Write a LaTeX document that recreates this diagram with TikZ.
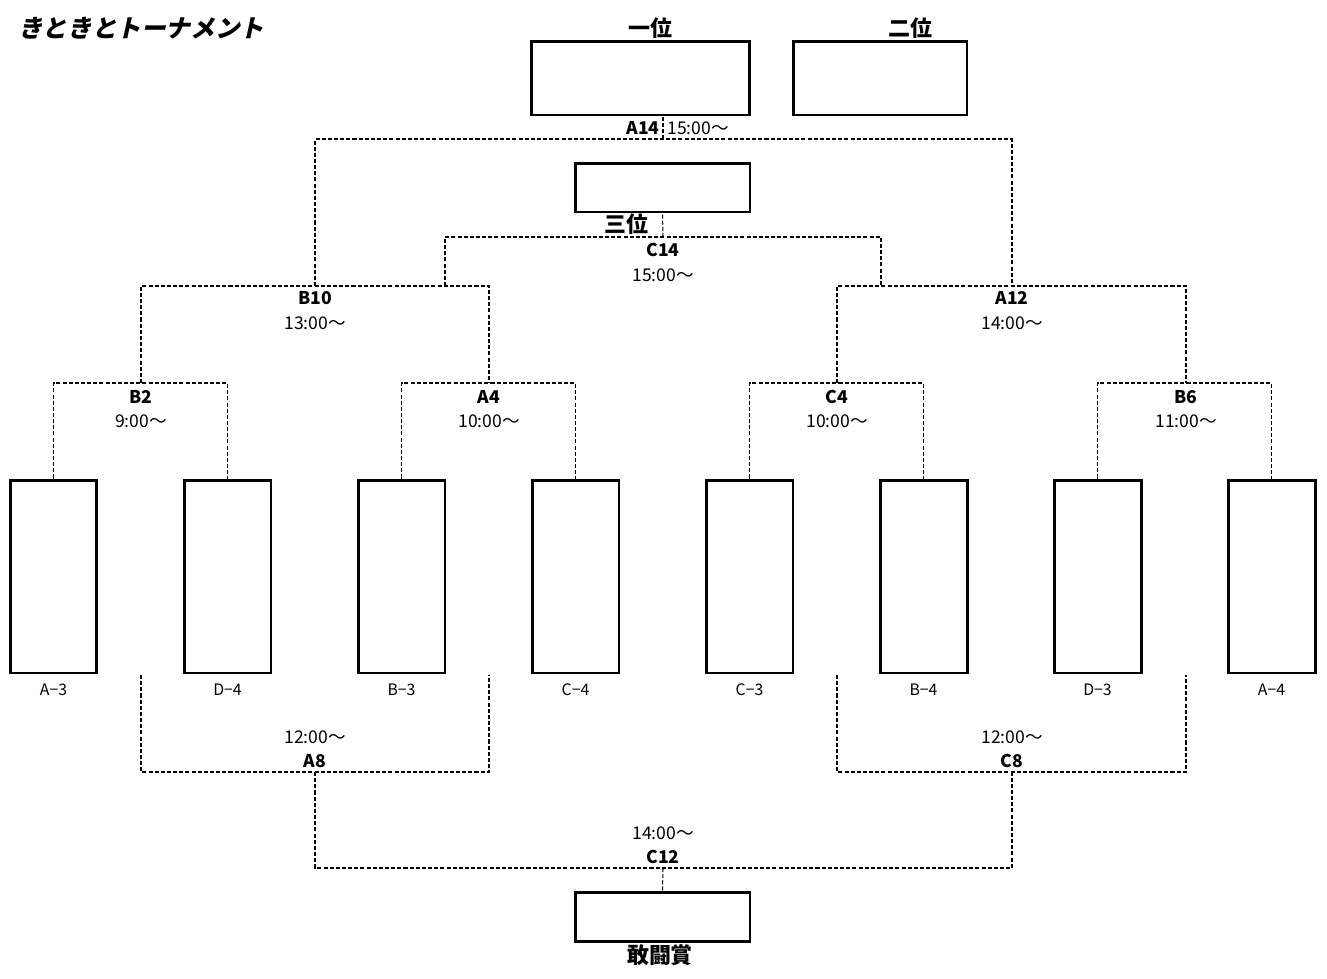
\documentclass[tikz,border=0pt]{standalone}
\usepackage{fontspec}
\setmainfont{Noto Sans CJK JP}
\newfontfamily\titlefont[FakeSlant=0.22, BoldFeatures={FakeSlant=0.22}]{Noto Sans CJK JP}
\usepackage{xcolor}

\tikzset{
    entry/.style={draw, line width=1.7pt, inner sep=0pt, minimum width=1.74cm, minimum height=3.86cm},
    prize/.style={draw, line width=1.7pt, inner sep=0pt, minimum width=3.5cm, minimum height=0.98cm},
    link/.style={line width=0.6pt, dash pattern=on 2.3pt off 1.2pt},
    game/.style={font=\fontsize{10}{11}\selectfont\bfseries, inner sep=0pt},
    clock/.style={font=\fontsize{10}{11}\selectfont, inner sep=0pt},
    team/.style={font=\fontsize{9}{10}\selectfont, inner sep=0pt},
    place/.style={font=\fontsize{12.5}{13}\selectfont\bfseries, inner sep=0pt}
}

\begin{document}
\begin{tikzpicture}[x=0.02cm, y=-0.02cm]
            \useasboundingbox (0,0) rectangle (1327,978);
            \node[anchor=west, inner sep=0pt, font=\titlefont\bfseries\fontsize{14}{15}\selectfont] (title) at (18,28) {きときとトーナメント};

            % les équipes
            \foreach \Team [count=\i from 0] in {A−3, D−4, B−3, C−4, C−3, B−4, D−3, A−4}{
                    \node[entry] (e\i) at ({53.5+174*\i},576.5) {};
                    \node[team] (t\i) at ({53.5+174*\i},690) {\Team};
                }

            \node[prize, minimum width=4.38cm, minimum height=1.48cm] (first) at (640.5,78) {};
            \node[prize, minimum width=3.48cm, minimum height=1.48cm] (second) at (880,78) {};
            \node[prize] (third) at (662.5,187.5) {};
            \node[prize] (fight) at (662.5,917) {};
            \node[place] (lfirst) at (650,28) {一位};
            \node[place] (lsecond) at (910,28) {二位};
            \node[place] (lthird) at (626,224) {三位};
            \node[place] (lfight) at (660,955) {敢闘賞};

            \coordinate (m1) at (141,383);
            \coordinate (m2) at (489,383);
            \coordinate (m3) at (837,383);
            \coordinate (m4) at (1186,383);
            \coordinate (m5) at (315,286);
            \coordinate (m6) at (1012,286);
            \coordinate (m7) at (663,237);
            \coordinate (m8) at (663,139);
            \coordinate (c1) at (445,286);
            \coordinate (c2) at (881,286);
            \coordinate (b1) at (141,675);
            \coordinate (b2) at (489,675);
            \coordinate (b3) at (837,675);
            \coordinate (b4) at (1186,675);
            \coordinate (m9) at (315,772);
            \coordinate (m10) at (1012,772);
            \coordinate (m11) at (663,868);

            \draw[link] (e0.north) |- (m1) -| (e1.north);
            \draw[link] (e2.north) |- (m2) -| (e3.north);
            \draw[link] (e4.north) |- (m3) -| (e5.north);
            \draw[link] (e6.north) |- (m4) -| (e7.north);
            \draw[link] (m1) |- (m5) -| (m2);
            \draw[link] (m3) |- (m6) -| (m4);
            \draw[link] (c1) |- (m7) -| (c2);
            \draw[link] (m7) -- (third.south);
            \draw[link] (m5) |- (m8) -| (m6);
            \draw[link] (m8) -- (m8 |- first.south);
            \draw[link] (b1) |- (m9) -| (b2);
            \draw[link] (b3) |- (m10) -| (b4);
            \draw[link] (m9) |- (m11) -| (m10);
            \draw[link] (m11) -- (fight.north);

            \foreach \x/\Game/\Time in {141/B2/9:00～, 489/A4/10:00～, 837/C4/10:00～, 1186/B6/11:00～}{
                    \node[game] at (\x,397) {\Game};
                    \node[clock] at (\x,421) {\Time};
                }
            \node[game] (g10) at (315,298) {B10};
            \node[clock] at (315,323) {13:00～};
            \node[game] (g12) at (1012,298) {A12};
            \node[clock] at (1012,323) {14:00～};
            \node[game] (g14c) at (663,250) {C14};
            \node[clock] at (663,275) {15:00～};
            \node[game, anchor=east] (g14a) at (660,128) {A14};
            \node[clock, anchor=west] at (667,128) {15:00～};
            \node[clock] at (315,737) {12:00～};
            \node[game] (g8a) at (315,761) {A8};
            \node[clock] at (1012,737) {12:00～};
            \node[game] (g8c) at (1012,761) {C8};
            \node[clock] at (663,833) {14:00～};
            \node[game] (g12c) at (663,857) {C12};

        \end{tikzpicture}
\end{document}
